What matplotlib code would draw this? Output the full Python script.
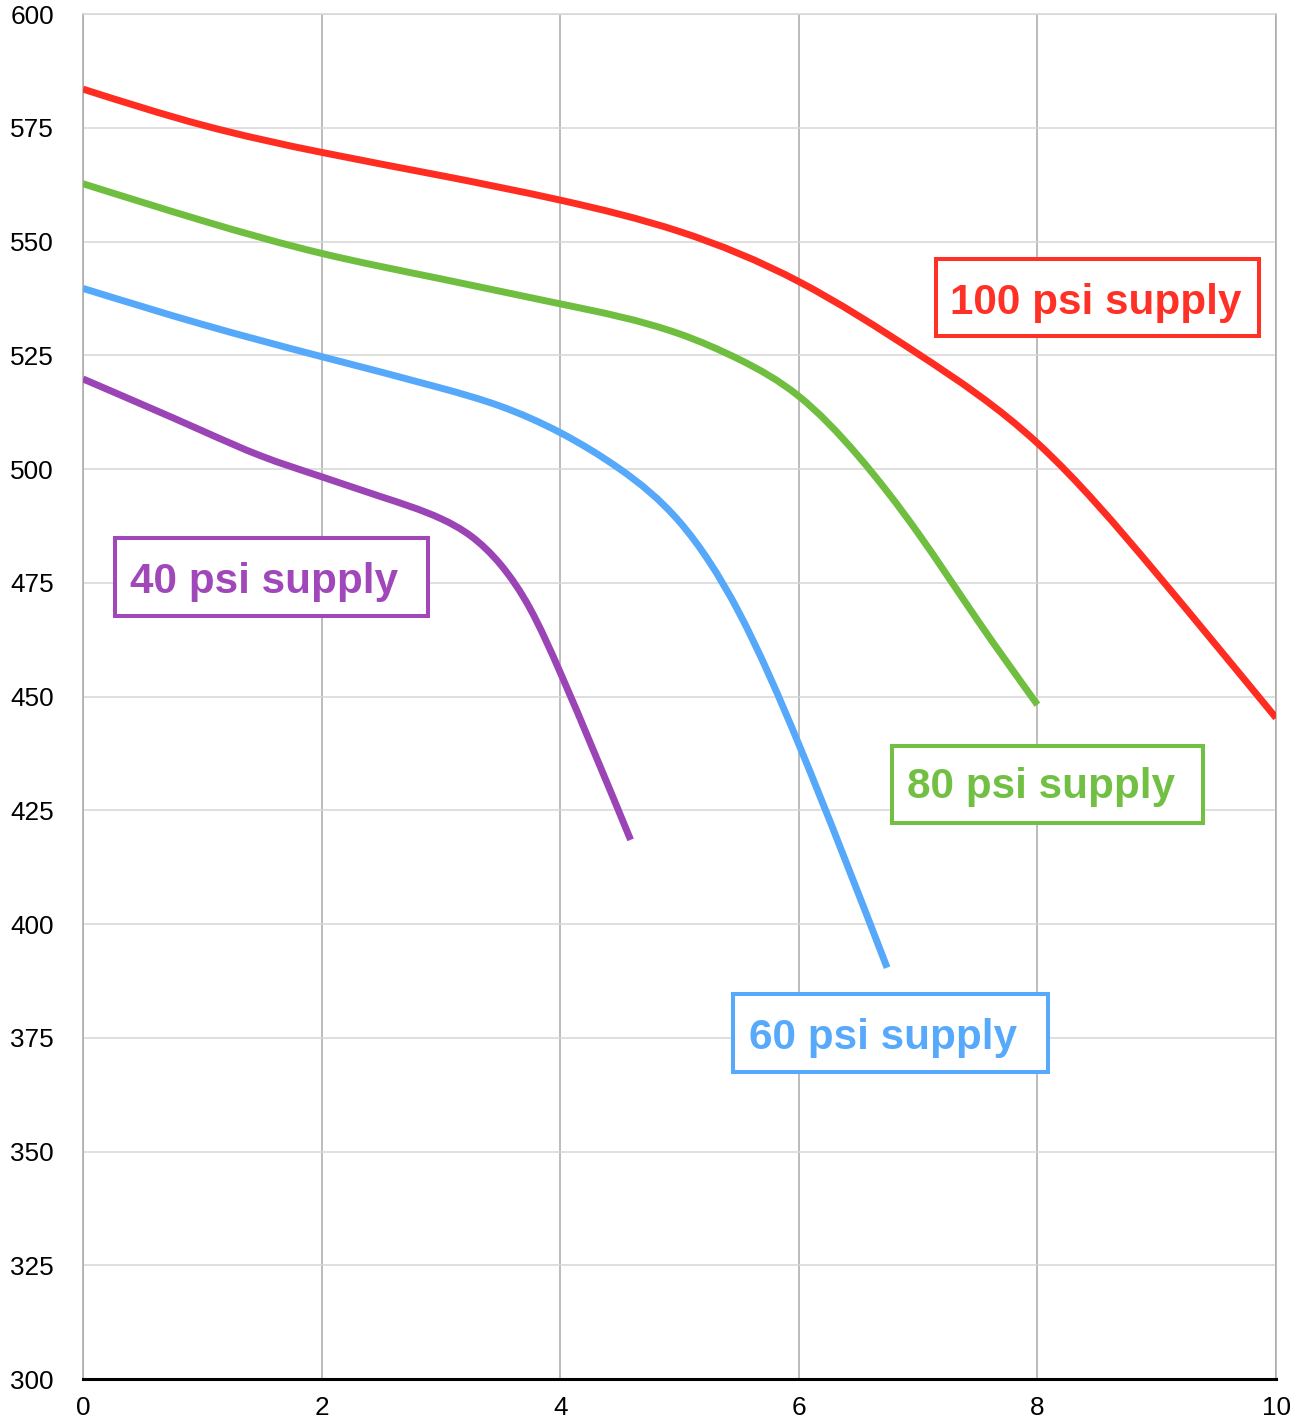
import numpy as np
import matplotlib.pyplot as plt
from matplotlib.patches import Rectangle, PathPatch
from matplotlib.path import Path

plt.rcParams["font.family"] = ["Liberation Sans", "DejaVu Sans"]

# curves (x, y)
x100 = [0, 1, 2, 3, 4, 5, 6, 7, 8, 9, 10]
y100 = [583.5, 575.6, 569.6, 564.5, 559.1, 552.2, 541.2, 525.3, 505.7, 477.0, 445.3]

x80 = [0, 1, 2, 3, 4, 5, 5.5, 6, 6.5, 7, 7.5, 8]
y80 = [562.7, 554.6, 547.4, 541.8, 536.3, 529.7, 524.1, 516.0, 502.8, 485.9, 466.7, 448.2]

x60 = [0, 1, 2, 3, 3.5, 4, 4.5, 5, 5.5, 6, 6.74]
y60 = [539.7, 531.8, 524.7, 517.8, 513.8, 508.0, 500.0, 488.4, 468.4, 439.5, 390.4]

x40 = [0, 1, 1.5, 2, 2.5, 3, 3.25, 3.5, 3.75, 4, 4.59]
y40 = [519.8, 508.4, 502.8, 498.3, 493.9, 489.1, 485.3, 479.0, 469.2, 455.3, 418.5]

series = [
    (x100, y100, "#ff2d21"),
    (x80, y80, "#6fbe3f"),
    (x60, y60, "#55a8fa"),
    (x40, y40, "#9b44b6"),
]

# label boxes: text, box (x0, y0, x1, y1), text anchor (x, baseline)
labels = [
    ("100 psi supply", (7.15, 529.3, 9.857, 546.2), (7.267, 534.1), "#ff3026"),
    ("80 psi supply", (6.781, 422.1, 9.388, 439.2), (6.907, 427.6), "#72c043"),
    ("60 psi supply", (5.449, 367.4, 8.089, 384.6), (5.583, 372.5), "#57aafb"),
    ("40 psi supply", (0.268, 467.6, 2.892, 484.9), (0.394, 472.8), "#a047ba"),
]


def smooth_path(xs, ys):
    # natural cubic spline through the points, drawn as bezier segments
    x = np.asarray(xs, float)
    y = np.asarray(ys, float)
    n = len(x)
    h = np.diff(x)
    A = np.zeros((n, n))
    b = np.zeros(n)
    A[0, 0] = A[-1, -1] = 1
    for i in range(1, n - 1):
        A[i, i - 1] = h[i - 1]
        A[i, i] = 2 * (h[i - 1] + h[i])
        A[i, i + 1] = h[i]
        b[i] = 6 * ((y[i + 1] - y[i]) / h[i] - (y[i] - y[i - 1]) / h[i - 1])
    M = np.linalg.solve(A, b)
    verts = [(x[0], y[0])]
    codes = [Path.MOVETO]
    for i in range(n - 1):
        s = (y[i + 1] - y[i]) / h[i]
        m0 = s - h[i] * (2 * M[i] + M[i + 1]) / 6
        m1 = s + h[i] * (M[i] + 2 * M[i + 1]) / 6
        verts += [(x[i] + h[i] / 3, y[i] + m0 * h[i] / 3),
                  (x[i + 1] - h[i] / 3, y[i + 1] - m1 * h[i] / 3),
                  (x[i + 1], y[i + 1])]
        codes += [Path.CURVE4] * 3
    return Path(verts, codes)


fig = plt.figure(figsize=(13.01, 14.18), dpi=100)
ax = fig.add_axes([0.0638, 0.0275, 0.917, 0.9626])

for xs, ys, c in series:
    ax.add_patch(PathPatch(smooth_path(xs, ys), facecolor="none", edgecolor=c,
                           lw=5.0, capstyle="butt", joinstyle="round", zorder=3))

for txt, (x0, y0, x1, y1), (tx, ty), c in labels:
    ax.add_patch(Rectangle((x0, y0), x1 - x0, y1 - y0, facecolor="white",
                           edgecolor=c, lw=2.9, zorder=4))
    ax.text(tx, ty, txt, color=c, fontsize=30.4, fontweight="bold",
            ha="left", va="baseline", zorder=5)

ax.set_xlim(0, 10)
ax.set_ylim(300, 600)
ax.set_xticks(range(0, 11, 2))
ax.set_yticks(range(300, 601, 25))
ax.tick_params(length=0, labelsize=18.8, colors="black")
ax.tick_params(axis="x", pad=12)
ax.tick_params(axis="y", pad=21)

ax.xaxis.grid(True, color="#a9a9a9", lw=1.1)
ax.yaxis.grid(True, color="#d6d6d6", lw=1.1)
ax.set_axisbelow(True)

for s in ["left", "right"]:
    ax.spines[s].set_color("#a9a9a9")
    ax.spines[s].set_linewidth(1.1)
ax.spines["top"].set_color("#d6d6d6")
ax.spines["top"].set_linewidth(1.1)
ax.spines["bottom"].set_color("black")
ax.spines["bottom"].set_linewidth(2.2)
ax.spines["bottom"].set_zorder(6)

fig.savefig("out.png", dpi=100)
